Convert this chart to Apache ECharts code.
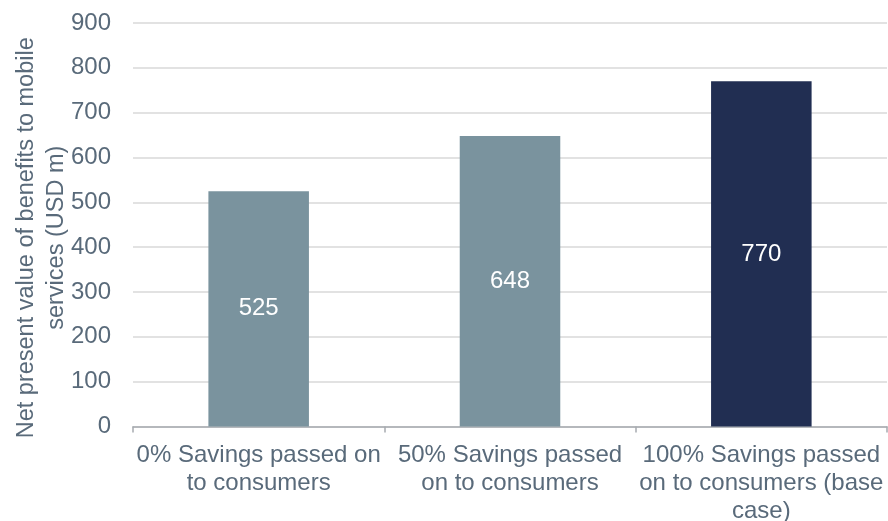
<!DOCTYPE html>
<html>
<head>
<meta charset="utf-8">
<script src="https://cdn.jsdelivr.net/npm/echarts@6/dist/echarts.min.js"></script>
<style>
  html, body { margin: 0; padding: 0; background: #fff; }
  #chart { width: 888px; height: 521px; }
</style>
</head>
<body>
<div id="chart"></div>
<script>
// Scenarios: share of savings passed on to consumers
const categories = [
  '0% Savings passed on\nto consumers',
  '50% Savings passed\non to consumers',
  '100% Savings passed\non to consumers (base\ncase)'
];
// Net present value of benefits, USD m
const values = [525, 648, 770];
const barColors = ['#7a939e', '#7a939e', '#212e52'];
const yTicks = { min: 0, max: 900, interval: 100 };

const textColor = '#596a7a';
const font = 'Liberation Sans, Arial, sans-serif';

const chart = echarts.init(document.getElementById('chart'));
chart.setOption({
  animation: false,
  grid: {
    left: 133, right: 1, top: 23, bottom: 94.5,
    containLabel: false, outerBoundsMode: 'none'
  },
  xAxis: {
    type: 'category',
    data: categories,
    axisLine: { lineStyle: { color: '#a6abb0', width: 1.5 } },
    axisTick: { show: true, length: 6, lineStyle: { color: '#a6abb0', width: 1.5 } },
    axisLabel: {
      color: textColor, fontFamily: font, fontSize: 24, lineHeight: 28,
      margin: 15, interval: 0
    }
  },
  yAxis: {
    type: 'value',
    min: yTicks.min, max: yTicks.max, interval: yTicks.interval,
    name: 'Net present value of benefits to mobile\nservices (USD m)',
    nameLocation: 'middle',
    nameRotate: 90,
    nameGap: 61,
    nameMoveOverlap: false,
    nameTextStyle: {
      color: textColor, fontFamily: font, fontSize: 23.5, lineHeight: 30,
      align: 'center', padding: [0, 26, 0, 0]
    },
    axisLine: { show: false },
    axisTick: { show: false },
    splitLine: { lineStyle: { color: '#d9d9d9', width: 1.5 } },
    axisLabel: { color: textColor, fontFamily: font, fontSize: 24, margin: 22 }
  },
  series: [{
    type: 'bar',
    data: values.map((v, i) => ({ value: v, itemStyle: { color: barColors[i] } })),
    barWidth: '40%',
    label: {
      show: true, position: 'inside', color: '#ffffff',
      fontFamily: font, fontSize: 24
    }
  }]
});
</script>
</body>
</html>
